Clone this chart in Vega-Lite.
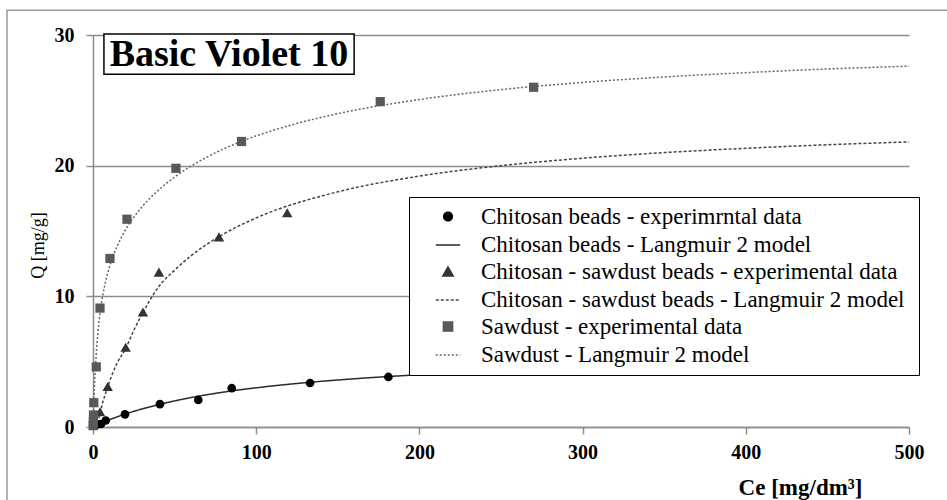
{
  "$schema": "https://vega.github.io/schema/vega-lite/v6.json",
  "width": 816,
  "height": 392,
  "autosize": {"type": "none"},
  "padding": {"left": 93, "top": 35, "right": 38, "bottom": 73},
  "background": "white",
  "config": {
    "view": {"stroke": null},
    "font": "Liberation Serif",
    "legend": {"labelFont": "Liberation Serif", "titleFont": "Liberation Serif", "symbolStrokeWidth": 1.5},
    "axis": {
      "domainColor": "#8c8c8c",
      "tickColor": "#8c8c8c",
      "gridColor": "#8c8c8c",
      "domainWidth": 1.5,
      "tickWidth": 1.5,
      "gridWidth": 1.5,
      "tickSize": 7,
      "labelFont": "Liberation Serif",
      "labelFontSize": 20,
      "labelFontWeight": "bold",
      "labelColor": "#000000",
      "titleFont": "Liberation Serif",
      "titleColor": "#000000"
    }
  },
  "datasets": {
    "pts": [
      {"series": "Chitosan beads - experimrntal data", "C": 1.5, "Q": 0.1},
      {"series": "Chitosan beads - experimrntal data", "C": 4.9, "Q": 0.23},
      {"series": "Chitosan beads - experimrntal data", "C": 7.8, "Q": 0.5},
      {"series": "Chitosan beads - experimrntal data", "C": 19.6, "Q": 0.97},
      {"series": "Chitosan beads - experimrntal data", "C": 41, "Q": 1.75},
      {"series": "Chitosan beads - experimrntal data", "C": 64.5, "Q": 2.07},
      {"series": "Chitosan beads - experimrntal data", "C": 85, "Q": 2.97},
      {"series": "Chitosan beads - experimrntal data", "C": 133, "Q": 3.37},
      {"series": "Chitosan beads - experimrntal data", "C": 181, "Q": 3.83},
      {"series": "Chitosan - sawdust beads - experimental data", "C": 4.3, "Q": 1.17},
      {"series": "Chitosan - sawdust beads - experimental data", "C": 9, "Q": 3.1},
      {"series": "Chitosan - sawdust beads - experimental data", "C": 20, "Q": 6.1},
      {"series": "Chitosan - sawdust beads - experimental data", "C": 30.6, "Q": 8.8},
      {"series": "Chitosan - sawdust beads - experimental data", "C": 40.4, "Q": 11.85},
      {"series": "Chitosan - sawdust beads - experimental data", "C": 77.2, "Q": 14.55},
      {"series": "Chitosan - sawdust beads - experimental data", "C": 119, "Q": 16.4},
      {"series": "Sawdust - experimental data", "C": 0.1, "Q": 0.1},
      {"series": "Sawdust - experimental data", "C": 0.2, "Q": 0.4},
      {"series": "Sawdust - experimental data", "C": 0.3, "Q": 0.92},
      {"series": "Sawdust - experimental data", "C": 0.5, "Q": 1.86},
      {"series": "Sawdust - experimental data", "C": 2, "Q": 4.6},
      {"series": "Sawdust - experimental data", "C": 4.3, "Q": 9.1},
      {"series": "Sawdust - experimental data", "C": 10.4, "Q": 12.9},
      {"series": "Sawdust - experimental data", "C": 20.8, "Q": 15.9},
      {"series": "Sawdust - experimental data", "C": 50.8, "Q": 19.8},
      {"series": "Sawdust - experimental data", "C": 91, "Q": 21.85},
      {"series": "Sawdust - experimental data", "C": 176, "Q": 24.9},
      {"series": "Sawdust - experimental data", "C": 270, "Q": 26.0}
    ],
    "curves": [
      {"series": "Chitosan beads -  Langmuir 2 model", "C": 0, "Q": 0},
      {"series": "Chitosan beads -  Langmuir 2 model", "C": 5, "Q": 0.29},
      {"series": "Chitosan beads -  Langmuir 2 model", "C": 10, "Q": 0.55},
      {"series": "Chitosan beads -  Langmuir 2 model", "C": 20, "Q": 1.0},
      {"series": "Chitosan beads -  Langmuir 2 model", "C": 30, "Q": 1.38},
      {"series": "Chitosan beads -  Langmuir 2 model", "C": 40, "Q": 1.71},
      {"series": "Chitosan beads -  Langmuir 2 model", "C": 60, "Q": 2.25},
      {"series": "Chitosan beads -  Langmuir 2 model", "C": 80, "Q": 2.67},
      {"series": "Chitosan beads -  Langmuir 2 model", "C": 100, "Q": 3.0},
      {"series": "Chitosan beads -  Langmuir 2 model", "C": 130, "Q": 3.39},
      {"series": "Chitosan beads -  Langmuir 2 model", "C": 160, "Q": 3.69},
      {"series": "Chitosan beads -  Langmuir 2 model", "C": 200, "Q": 4.0},
      {"series": "Chitosan beads -  Langmuir 2 model", "C": 250, "Q": 4.29},
      {"series": "Chitosan beads -  Langmuir 2 model", "C": 300, "Q": 4.5},
      {"series": "Chitosan beads -  Langmuir 2 model", "C": 350, "Q": 4.67},
      {"series": "Chitosan beads -  Langmuir 2 model", "C": 400, "Q": 4.8},
      {"series": "Chitosan beads -  Langmuir 2 model", "C": 450, "Q": 4.91},
      {"series": "Chitosan beads -  Langmuir 2 model", "C": 500, "Q": 5.0},
      {"series": "Chitosan - sawdust beads -  Langmuir 2 model", "C": 3, "Q": 0.3},
      {"series": "Chitosan - sawdust beads -  Langmuir 2 model", "C": 4.3, "Q": 1.05},
      {"series": "Chitosan - sawdust beads -  Langmuir 2 model", "C": 6, "Q": 1.9},
      {"series": "Chitosan - sawdust beads -  Langmuir 2 model", "C": 8.4, "Q": 2.83},
      {"series": "Chitosan - sawdust beads -  Langmuir 2 model", "C": 12, "Q": 4.1},
      {"series": "Chitosan - sawdust beads -  Langmuir 2 model", "C": 15, "Q": 4.95},
      {"series": "Chitosan - sawdust beads -  Langmuir 2 model", "C": 19.6, "Q": 5.9},
      {"series": "Chitosan - sawdust beads -  Langmuir 2 model", "C": 25, "Q": 7.4},
      {"series": "Chitosan - sawdust beads -  Langmuir 2 model", "C": 30.8, "Q": 8.8},
      {"series": "Chitosan - sawdust beads -  Langmuir 2 model", "C": 40, "Q": 10.7},
      {"series": "Chitosan - sawdust beads -  Langmuir 2 model", "C": 50, "Q": 12.0},
      {"series": "Chitosan - sawdust beads -  Langmuir 2 model", "C": 60, "Q": 13.1},
      {"series": "Chitosan - sawdust beads -  Langmuir 2 model", "C": 80, "Q": 14.77},
      {"series": "Chitosan - sawdust beads -  Langmuir 2 model", "C": 100, "Q": 16.0},
      {"series": "Chitosan - sawdust beads -  Langmuir 2 model", "C": 150, "Q": 18.0},
      {"series": "Chitosan - sawdust beads -  Langmuir 2 model", "C": 200, "Q": 19.2},
      {"series": "Chitosan - sawdust beads -  Langmuir 2 model", "C": 250, "Q": 20.0},
      {"series": "Chitosan - sawdust beads -  Langmuir 2 model", "C": 300, "Q": 20.57},
      {"series": "Chitosan - sawdust beads -  Langmuir 2 model", "C": 350, "Q": 21.0},
      {"series": "Chitosan - sawdust beads -  Langmuir 2 model", "C": 400, "Q": 21.33},
      {"series": "Chitosan - sawdust beads -  Langmuir 2 model", "C": 450, "Q": 21.6},
      {"series": "Chitosan - sawdust beads -  Langmuir 2 model", "C": 500, "Q": 21.82},
      {"series": "Sawdust -  Langmuir 2 model", "C": 0, "Q": 0},
      {"series": "Sawdust -  Langmuir 2 model", "C": 1, "Q": 3.42},
      {"series": "Sawdust -  Langmuir 2 model", "C": 2, "Q": 5.6},
      {"series": "Sawdust -  Langmuir 2 model", "C": 3, "Q": 7.19},
      {"series": "Sawdust -  Langmuir 2 model", "C": 5, "Q": 9.31},
      {"series": "Sawdust -  Langmuir 2 model", "C": 7, "Q": 10.72},
      {"series": "Sawdust -  Langmuir 2 model", "C": 10, "Q": 12.21},
      {"series": "Sawdust -  Langmuir 2 model", "C": 15, "Q": 13.89},
      {"series": "Sawdust -  Langmuir 2 model", "C": 20, "Q": 15.1},
      {"series": "Sawdust -  Langmuir 2 model", "C": 30, "Q": 16.84},
      {"series": "Sawdust -  Langmuir 2 model", "C": 40, "Q": 18.11},
      {"series": "Sawdust -  Langmuir 2 model", "C": 50, "Q": 19.13},
      {"series": "Sawdust -  Langmuir 2 model", "C": 70, "Q": 20.67},
      {"series": "Sawdust -  Langmuir 2 model", "C": 90, "Q": 21.81},
      {"series": "Sawdust -  Langmuir 2 model", "C": 120, "Q": 23.06},
      {"series": "Sawdust -  Langmuir 2 model", "C": 150, "Q": 23.98},
      {"series": "Sawdust -  Langmuir 2 model", "C": 200, "Q": 25.06},
      {"series": "Sawdust -  Langmuir 2 model", "C": 250, "Q": 25.82},
      {"series": "Sawdust -  Langmuir 2 model", "C": 300, "Q": 26.37},
      {"series": "Sawdust -  Langmuir 2 model", "C": 350, "Q": 26.79},
      {"series": "Sawdust -  Langmuir 2 model", "C": 400, "Q": 27.12},
      {"series": "Sawdust -  Langmuir 2 model", "C": 450, "Q": 27.4},
      {"series": "Sawdust -  Langmuir 2 model", "C": 500, "Q": 27.61}
    ],
    "note": [{"label": "Basic Violet 10"}]
  },
  "layer": [
    {
      "data": {"name": "curves"},
      "mark": {"type": "line", "strokeWidth": 1.5, "interpolate": "monotone"},
      "encoding": {
        "x": {
          "field": "C", "type": "quantitative",
          "scale": {"domain": [0, 500], "nice": false},
          "axis": {"values": [0, 100, 200, 300, 400, 500], "grid": false, "title": "Ce [mg/dm³]", "titleFontSize": 23, "titleFontWeight": "bold", "titleX": 707, "titleY": 49, "titleBaseline": "top", "titleAlign": "center", "labelPadding": 8, "labelFlush": false}
        },
        "y": {
          "field": "Q", "type": "quantitative",
          "scale": {"domain": [0, 30], "nice": false},
          "axis": {"values": [0, 10, 20, 30], "grid": true, "title": "Q [mg/g]", "titleFontSize": 18, "titleFontWeight": "normal", "titleY": 210, "titlePadding": 7, "labelPadding": 12}
        },
        "detail": {"field": "series"},
        "color": {
          "field": "series", "type": "nominal",
          "scale": {
            "domain": ["Chitosan beads - experimrntal data", "Chitosan beads -  Langmuir 2 model", "Chitosan - sawdust beads - experimental data", "Chitosan - sawdust beads -  Langmuir 2 model", "Sawdust - experimental data", "Sawdust -  Langmuir 2 model"],
            "range": ["#000000", "#2a2a2a", "#333333", "#444444", "#595959", "#666666"]
          },
          "legend": {"title": null, "orient": "none", "legendX": 316, "legendY": 162, "strokeColor": "#000000", "fillColor": "#ffffff", "padding": 8, "rowPadding": 3, "labelFontSize": 23, "labelColor": "#000000", "labelLimit": 600, "symbolOffset": 18, "labelOffset": 20, "symbolStrokeWidth": 1.5}
        },
        "strokeDash": {
          "field": "series", "type": "nominal",
          "scale": {
            "domain": ["Chitosan beads - experimrntal data", "Chitosan beads -  Langmuir 2 model", "Chitosan - sawdust beads - experimental data", "Chitosan - sawdust beads -  Langmuir 2 model", "Sawdust - experimental data", "Sawdust -  Langmuir 2 model"],
            "range": [[1, 0], [1, 0], [1, 0], [3, 2], [1, 0], [2, 2]]
          },
          "legend": {"title": null, "orient": "none", "legendX": 316, "legendY": 162, "strokeColor": "#000000", "fillColor": "#ffffff", "padding": 8, "rowPadding": 3, "labelFontSize": 23, "labelColor": "#000000", "labelLimit": 600, "symbolOffset": 18, "labelOffset": 20, "symbolStrokeWidth": 1.5}
        }
      }
    },
    {
      "data": {"name": "pts"},
      "mark": {"type": "point", "filled": true, "opacity": 1},
      "encoding": {
        "x": {"field": "C", "type": "quantitative"},
        "y": {"field": "Q", "type": "quantitative"},
        "color": {"field": "series", "type": "nominal"},
        "shape": {
          "field": "series", "type": "nominal",
          "scale": {
            "domain": ["Chitosan beads - experimrntal data", "Chitosan beads -  Langmuir 2 model", "Chitosan - sawdust beads - experimental data", "Chitosan - sawdust beads -  Langmuir 2 model", "Sawdust - experimental data", "Sawdust -  Langmuir 2 model"],
            "range": ["circle", "stroke", "triangle-up", "stroke", "square", "stroke"]
          },
          "legend": {"title": null, "orient": "none", "legendX": 316, "legendY": 162, "strokeColor": "#000000", "fillColor": "#ffffff", "padding": 8, "rowPadding": 3, "labelFontSize": 23, "labelColor": "#000000", "labelLimit": 600, "symbolOffset": 18, "labelOffset": 20, "symbolStrokeWidth": 1.5}
        },
        "size": {
          "field": "series", "type": "nominal",
          "scale": {
            "type": "ordinal",
            "domain": ["Chitosan beads - experimrntal data", "Chitosan beads -  Langmuir 2 model", "Chitosan - sawdust beads - experimental data", "Chitosan - sawdust beads -  Langmuir 2 model", "Sawdust - experimental data", "Sawdust -  Langmuir 2 model"],
            "range": [75, 600, 110, 600, 85, 600]
          },
          "legend": {"title": null, "orient": "none", "legendX": 316, "legendY": 162, "strokeColor": "#000000", "fillColor": "#ffffff", "padding": 8, "rowPadding": 3, "labelFontSize": 23, "labelColor": "#000000", "labelLimit": 600, "symbolOffset": 18, "labelOffset": 20, "symbolStrokeWidth": 1.5}
        }
      }
    },
    {
      "data": {"name": "note"},
      "mark": {"type": "rect", "fill": "transparent", "stroke": "#9a9a9a", "strokeWidth": 1.5},
      "encoding": {
        "x": {"datum": -52.7, "type": "quantitative"},
        "x2": {"datum": 530},
        "y": {"datum": 31.9, "type": "quantitative"},
        "y2": {"datum": -6}
      }
    },
    {
      "data": {"name": "note"},
      "mark": {"type": "rect", "fill": "#ffffff", "stroke": "#000000", "strokeWidth": 1.5},
      "encoding": {
        "x": {"datum": 6.7, "type": "quantitative"},
        "x2": {"datum": 160},
        "y": {"datum": 30.07, "type": "quantitative"},
        "y2": {"datum": 27.0}
      }
    },
    {
      "data": {"name": "note"},
      "mark": {"type": "text", "font": "Liberation Serif", "fontSize": 38, "fontWeight": "bold", "align": "center", "baseline": "middle", "color": "#000000"},
      "encoding": {
        "x": {"datum": 83.3, "type": "quantitative"},
        "y": {"datum": 28.5, "type": "quantitative"},
        "text": {"field": "label"}
      }
    }
  ]
}
